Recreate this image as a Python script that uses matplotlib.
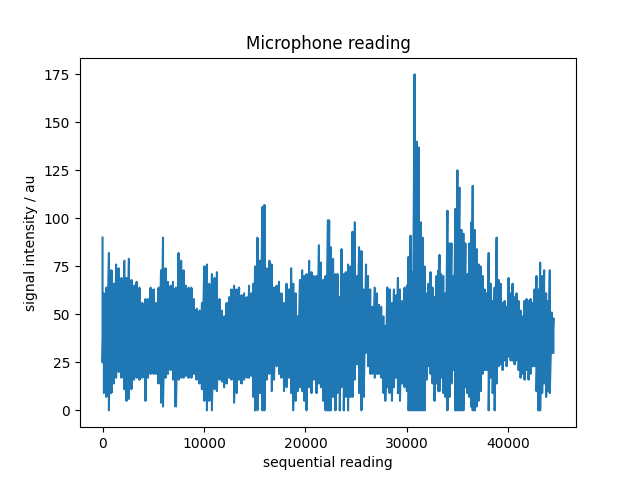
import numpy as np
import matplotlib
matplotlib.use("Agg")
import matplotlib.pyplot as plt

# envelope of the microphone trace
# (sample position, upper value, lower value)
sample_pos = [
    0, 131, 360, 622, 852, 1114, 1343, 1605, 1867, 2162, 2359, 2588, 2850, 3112,
    3374, 3636, 3898, 4226, 4488, 4750, 5045, 5274, 5536, 5766, 5962, 6192, 6454,
    6716, 6945, 7240, 7502, 7764, 7993, 8223, 8485, 8747, 9009, 9304, 9566, 9795,
    10024, 10286, 10516, 10778, 11040, 11269, 11531, 11761, 11990, 12252, 12481,
    12743, 12973, 13235, 13464, 13726, 13955, 14218, 14447, 14676, 14873, 15037,
    15266, 15528, 15757, 15954, 16183, 16445, 16675, 16904, 17166, 17396, 17625,
    17887, 18149, 18378, 18608, 18804, 19034, 19230, 19459, 19689, 19885, 20115,
    20377, 20606, 20836, 21098, 21327, 21524, 21753, 21983, 22212, 22343, 22506,
    22735, 22964, 23161, 23390, 23554, 23783, 23980, 24209, 24439, 24635, 24865,
    25094, 25290, 25520, 25749, 25978, 26175, 26404, 26601, 26830, 27059, 27256,
    27485, 27714, 27878, 28075, 28304, 28533, 28730, 28959, 29124, 29320, 29550,
    29779, 30009, 30172, 30369, 30565, 30762, 30958, 31155, 31352, 31548, 31745,
    31941, 32138, 32334, 32531, 32728, 32924, 33121, 33219, 33383, 33612, 33809,
    34005, 34202, 34398, 34595, 34791, 34988, 35185, 35381, 35578, 35774, 35971,
    36167, 36364, 36495, 36692, 36888, 37085, 37281, 37478, 37674, 37871, 38068,
    38264, 38461, 38657, 38854, 39050, 39247, 39443, 39640, 39836, 40033, 40230,
    40426, 40623, 40819, 41016, 41212, 41409, 41605, 41802, 41998, 42195, 42391,
    42588, 42784, 42981, 43145, 43341, 43538, 43734, 43931, 44095, 44292, 44456,
]
upper = [
    90, 61, 64, 82, 73, 66, 76, 74, 69, 78, 69, 79, 68, 65,
    67, 64, 56, 58, 58, 64, 63, 56, 64, 73, 90, 74, 67,
    65, 67, 64, 82, 78, 73, 65, 64, 64, 58, 53, 52, 56,
    75, 76, 66, 71, 69, 72, 58, 52, 49, 56, 59,
    63, 65, 63, 64, 60, 61, 59, 65, 61, 66, 75,
    90, 78, 106, 107, 74, 78, 76, 64, 65, 67, 61,
    56, 66, 63, 74, 66, 61, 49, 68, 73, 70, 71,
    78, 72, 70, 70, 86, 77, 68, 70, 99, 99, 85,
    79, 71, 71, 59, 84, 71, 72, 76, 75, 93, 98,
    70, 85, 83, 63, 76, 70, 63, 54, 64, 61, 55,
    54, 49, 44, 64, 63, 56, 63, 60, 69, 63, 57,
    64, 65, 80, 91, 72, 175, 140, 137, 98, 90, 75,
    61, 66, 72, 64, 59, 70, 73, 81, 71, 70, 61,
    104, 87, 87, 70, 105, 125, 116, 94, 92, 87, 71,
    87, 98, 117, 94, 84, 76, 75, 70, 63, 61, 82,
    66, 57, 64, 90, 68, 66, 56, 57, 54, 69, 61,
    66, 59, 61, 57, 52, 49, 57, 58, 57, 58, 56,
    63, 70, 63, 77, 70, 73, 61, 57, 73, 51, 48,
]
lower = [
    25, 9, 7, 0, 9, 14, 17, 20, 17, 11, 5, 6, 11, 16,
    17, 16, 17, 5, 17, 19, 19, 19, 14, 4, 2, 17, 19,
    21, 16, 2, 16, 17, 17, 18, 17, 17, 19, 16, 14, 11,
    5, 0, 5, 0, 11, 10, 16, 15, 12, 14, 17,
    16, 4, 9, 16, 14, 16, 17, 17, 18, 7, 0,
    0, 9, 0, 0, 16, 19, 10, 16, 23, 19, 17,
    10, 12, 17, 9, 0, 5, 10, 12, 10, 5, 0,
    12, 9, 16, 9, 14, 12, 5, 0, 0, 0, 0,
    7, 0, 9, 0, 12, 0, 7, 0, 7, 7, 16,
    24, 9, 0, 7, 30, 23, 19, 19, 17, 19, 19,
    17, 9, 5, 12, 9, 5, 12, 17, 9, 5, 14,
    12, 10, 0, 0, 0, 0, 0, 0, 0, 0, 0,
    16, 23, 19, 14, 5, 14, 10, 10, 17, 9, 7,
    0, 7, 14, 21, 0, 0, 0, 0, 0, 12, 9,
    7, 2, 0, 0, 2, 5, 10, 19, 21, 21, 0,
    17, 9, 0, 14, 23, 24, 21, 26, 23, 28, 26,
    26, 24, 26, 21, 17, 19, 16, 21, 16, 19, 23,
    23, 10, 0, 0, 9, 14, 7, 10, 9, 30, 30,
]

x = np.array(sample_pos)
hi = np.array(upper)
lo = np.array(lower)

fig, ax = plt.subplots(figsize=(6.4, 4.8), dpi=100)

# solid band between the envelopes, plus a zigzag trace over it
ax.fill_between(x, lo, hi, step='mid', color='#1f77b4', linewidth=0)
xs = np.repeat(x, 2)
ys = np.column_stack([hi, lo]).ravel()
ax.plot(xs, ys, color='#1f77b4', linewidth=1.5)

ax.set_title('Microphone reading')
ax.set_xlabel('sequential reading')
ax.set_ylabel('signal intensity / au')

fig.savefig('out.png')
